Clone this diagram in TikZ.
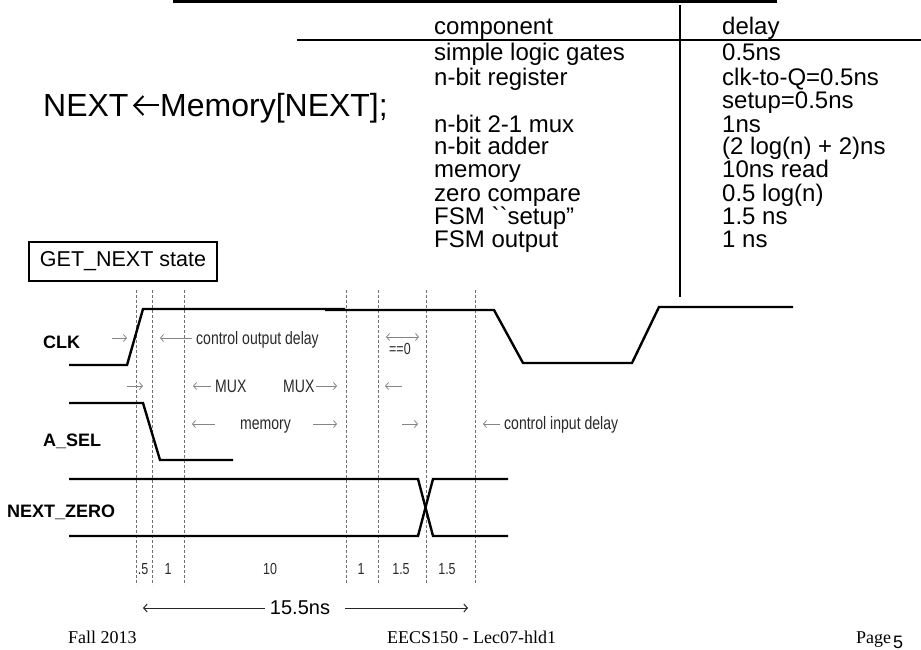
\documentclass[tikz,border=0pt]{standalone}
\usepackage{fontspec}
\setmainfont{Liberation Sans}
\newfontfamily\narrowfont[FakeStretch=0.78]{Liberation Sans}
\newfontfamily\footfont{Liberation Serif}
\usetikzlibrary{arrows.meta}
\definecolor{dashgray}{HTML}{707070}
\definecolor{arrgray}{HTML}{858585}
\definecolor{txtgray}{HTML}{2A2A2A}
\begin{document}
\begin{tikzpicture}[x=1pt,y=-1pt,
  tabtxt/.style={anchor=base west, inner sep=0pt, font=\fontsize{24}{26}\selectfont},
  sigtxt/.style={anchor=base west, inner sep=0pt, font=\bfseries\fontsize{18}{20}\selectfont},
  lbl/.style={anchor=base west, inner sep=0pt, text=txtgray, font=\narrowfont\fontsize{18}{20}\selectfont},
  numtxt/.style={anchor=base, inner sep=0pt, text=txtgray, font=\narrowfont\fontsize{16}{18}\selectfont},
  foot/.style={anchor=base west, inner sep=0pt, font=\footfont\fontsize{18}{20}\selectfont},
  wave/.style={line width=2.4pt},
  garr/.style={draw=arrgray, line width=0.8pt, -{Straight Barb[length=3pt,width=7pt]}},
  garrb/.style={draw=arrgray, line width=0.8pt, {Straight Barb[length=3pt,width=7pt]}-{Straight Barb[length=3pt,width=7pt]}},
  barr/.style={draw=black!85, line width=1pt, -{Straight Barb[length=3.5pt,width=8pt]}},
  dline/.style={draw=dashgray, line width=0.6pt, dash pattern=on 3pt off 2pt},
  rule/.style={line width=2.5pt}
]
\useasboundingbox[fill=white] (0,0) rectangle (921,650);

% top rules
\draw[line width=3pt] (173,1.3) -- (777,1.3);
\draw[line width=2.2pt] (297,40) -- (921,40);
\draw[rule] (680,5) -- (680,297);

% statement
\node[anchor=base west, inner sep=0pt, font=\fontsize{32}{36}\selectfont] (stmtA) at (43,117) {NEXT};
\node[anchor=base west, inner sep=0pt, font=\fontsize{32}{36}\selectfont] (stmtB) at (160,117) {Memory[NEXT];};
\coordinate (arrL) at (133,105.5);
\coordinate (arrR) at (159,105.5);
\draw[line width=2pt, {Straight Barb[length=9pt,width=19pt,line width=2pt]}-] (arrL) -- (arrR);

% table
\node[tabtxt] (h1) at (434,35) {component};
\node[tabtxt] (h2) at (722,35) {delay};
\node[tabtxt] (r1a) at (434,60.5) {simple logic gates};
\node[tabtxt] (r1b) at (722,60.5) {0.5ns};
\node[tabtxt] (r2a) at (434,86) {n-bit register};
\node[tabtxt] (r2b) at (722,86) {clk-to-Q=0.5ns};
\node[tabtxt] (r2c) at (722,109) {setup=0.5ns};
\node[tabtxt] (r3a) at (434,132) {n-bit 2-1 mux};
\node[tabtxt] (r3b) at (722,132) {1ns};
\node[tabtxt] (r4a) at (434,155) {n-bit adder};
\node[tabtxt] (r4b) at (722,155) {(2 log(n) + 2)ns};
\node[tabtxt] (r5a) at (434,178) {memory};
\node[tabtxt] (r5b) at (722,178) {10ns read};
\node[tabtxt] (r6a) at (434,201) {zero compare};
\node[tabtxt] (r6b) at (722,201) {0.5 log(n)};
\node[tabtxt] (r7a) at (434,224) {FSM \textasciigrave\textasciigrave setup”};
\node[tabtxt] (r7b) at (722,224) {1.5 ns};
\node[tabtxt] (r8a) at (434,247) {FSM output};
\node[tabtxt] (r8b) at (722,247) {1 ns};

% state box
\node[draw, line width=2pt, minimum width=188pt, minimum height=39pt, inner sep=0pt,
      font=\fontsize{21.5}{24}\selectfont] (state) at (123,261.5) {GET\_NEXT state};

% dashed time markers
\foreach \xx in {136,152,184,346,378,426,475}
  \draw[dline] (\xx,290) -- (\xx,585);

% signal names
\node[sigtxt] (clk) at (43,348.5) {CLK};
\node[sigtxt] (asel) at (43,446) {A\_SEL};
\node[sigtxt] (nz) at (7,517) {NEXT\_ZERO};

% waveforms
\draw[wave] (69,365) -- (127,365) -- (143,309) -- (345,309);
\draw[wave] (325,310) -- (494,310) -- (523,363) -- (632,363) -- (659,307) -- (793,307);
\draw[wave] (69,403) -- (143,403) -- (160,460) -- (233,460);
\draw[wave] (69,479) -- (418,479) -- (433,536) -- (508,536);
\draw[wave] (69,536) -- (418,536) -- (433,479) -- (508,479);

% annotations row 1
\draw[garr] (112,338) -- (127,338);
\draw[garr] (192,338) -- (160,338);
\node[lbl] (cod) at (196,344.5) {control output delay};
\draw[garrb] (386,337) -- (419,337);
\node[lbl, font=\narrowfont\fontsize{16}{18}\selectfont] (eq0) at (389,354) {==0};

% row 2
\draw[garr] (127,386) -- (143,386);
\draw[garr] (211,386) -- (193,386);
\node[lbl] (mux1) at (215,392) {MUX};
\node[lbl] (mux2) at (283,392) {MUX};
\draw[garr] (316,386) -- (337,386);
\draw[garr] (402,386) -- (385,386);

% row 3
\draw[garr] (215,424) -- (192,424);
\node[lbl] (mem) at (240,429) {memory};
\draw[garr] (313,424) -- (337,424);
\draw[garr] (402,424) -- (418,424);
\draw[garr] (500,424) -- (483,424);
\node[lbl] (cid) at (504,429) {control input delay};

% interval numbers
\node[numtxt] (n1) at (143,574) {.5};
\node[numtxt] (n2) at (168,574) {1};
\node[numtxt] (n3) at (270,574) {10};
\node[numtxt] (n4) at (361,574) {1};
\node[numtxt] (n5) at (401,574) {1.5};
\node[numtxt] (n6) at (447,574) {1.5};

% total
\node[anchor=base, inner sep=0pt, font=\fontsize{20}{22}\selectfont] (tot) at (300,614.5) {15.5ns};
\draw[barr] (265,608) -- (143,608);
\draw[barr] (345,608) -- (468,608);

% footer
\node[foot] (f1) at (68,643.5) {Fall 2013};
\node[foot] (f2) at (387,643.5) {EECS150 - Lec07-hld1};
\node[foot] (f3) at (856,643.5) {Page};
\node[anchor=base west, inner sep=0pt, font=\fontsize{18}{18}\selectfont] (f4) at (893,648) {5};
\end{tikzpicture}
\end{document}
